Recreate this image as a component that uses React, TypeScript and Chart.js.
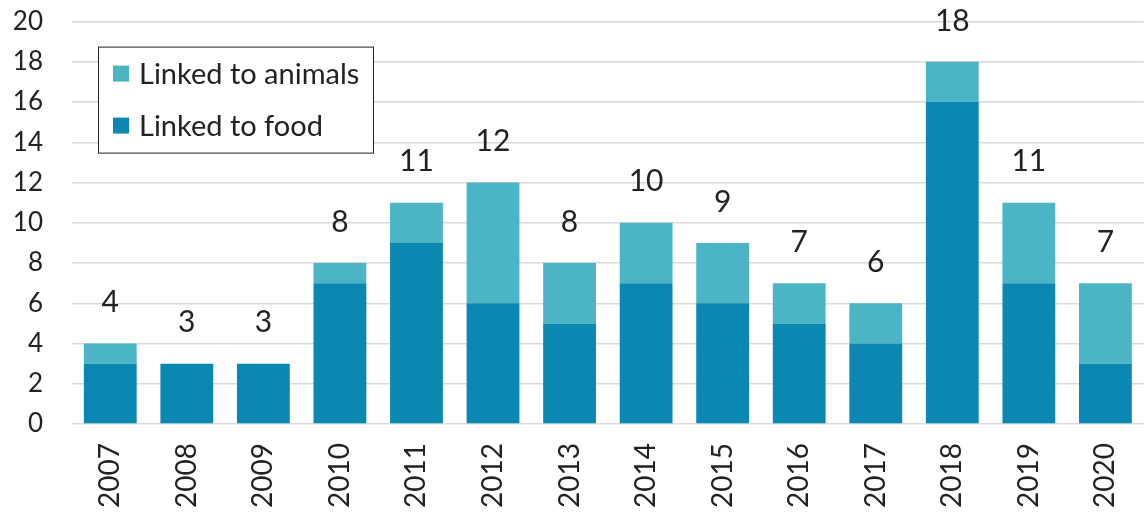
import React, { useEffect, useRef } from "react";
import { Chart, registerables } from "chart.js";

Chart.register(...registerables);

const years = ["2007", "2008", "2009", "2010", "2011", "2012", "2013", "2014", "2015", "2016", "2017", "2018", "2019", "2020"];
const linkedToFood = [3, 3, 3, 7, 9, 6, 5, 7, 6, 5, 4, 16, 7, 3];
const linkedToAnimals = [1, 0, 0, 1, 2, 6, 3, 3, 3, 2, 2, 2, 4, 4];
const foodColor = "#0B88B1";
const animalsColor = "#4BB5C5";
const FONT = "Lato, 'Noto Sans', sans-serif";
const SHIFT = 23;

const totalsPlugin = {
  id: "totals",
  afterDatasetsDraw(chart: any) {
    const ctx = chart.ctx;
    const y = chart.scales.y;
    const meta = chart.getDatasetMeta(0);
    ctx.save();
    ctx.font = `30px ${FONT}`;
    ctx.fillStyle = "#222";
    ctx.textAlign = "center";
    ctx.textBaseline = "middle";
    years.forEach((_, i) => {
      const total = linkedToFood[i] + linkedToAnimals[i];
      const x = meta.data[i].x;
      ctx.fillText(String(total), x, y.getPixelForValue(total) - 41);
    });
    ctx.restore();
  },
};

const legendBoxPlugin = {
  id: "legendBox",
  afterDraw(chart: any) {
    const ctx = chart.ctx;
    const ds = chart.data.datasets;
    const items = [ds[1], ds[0]];
    const top = chart.chartArea.top;
    ctx.save();
    ctx.fillStyle = "#fff";
    ctx.fillRect(98, top + 25, 275, 106);
    ctx.strokeStyle = "#222";
    ctx.lineWidth = 1;
    ctx.strokeRect(98.5, top + 25.5, 275, 106);
    ctx.font = `29px ${FONT}`;
    ctx.textBaseline = "middle";
    ctx.textAlign = "left";
    const rows = [top + 52, top + 104];
    items.forEach((d: any, k: number) => {
      ctx.fillStyle = d.backgroundColor;
      ctx.fillRect(113, rows[k] - 8, 16, 16);
      ctx.fillStyle = "#222";
      ctx.fillText(d.label, 139, rows[k] + 1);
    });
    ctx.restore();
  },
};

export default function App() {
  const ref = useRef<HTMLCanvasElement>(null);
  useEffect(() => {
    if (!ref.current) return;
    const chart = new Chart(ref.current, {
      type: "bar",
      data: {
        labels: years,
        datasets: [
          { label: "Linked to food", data: linkedToFood, backgroundColor: foodColor, barPercentage: 0.69, categoryPercentage: 1 },
          { label: "Linked to animals", data: linkedToAnimals, backgroundColor: animalsColor, barPercentage: 0.69, categoryPercentage: 1 },
        ],
      },
      options: {
        responsive: false,
        animation: false,
        devicePixelRatio: 1,
        layout: { padding: 0 },
        plugins: { legend: { display: false }, tooltip: { enabled: false } },
        scales: {
          x: {
            stacked: true,
            grid: { display: false },
            border: { display: false },
            ticks: { minRotation: 90, maxRotation: 90, padding: 11, color: "#222", font: { family: FONT, size: 28 } },
            afterFit(scale: any) { scale.height = 88; },
          },
          y: {
            stacked: true,
            min: 0,
            max: 20,
            grid: { color: "#d9d9d9", lineWidth: 1.5, drawTicks: false },
            border: { display: false },
            ticks: { stepSize: 2, padding: 29, color: "#222", font: { family: FONT, size: 26 } },
            afterFit(scale: any) { scale.width = 72; },
          },
        },
      },
      plugins: [totalsPlugin, legendBoxPlugin],
    });
    return () => chart.destroy();
  }, []);
  return (
    <div style={{ position: "fixed", left: 0, top: 0, width: 1145, height: 512, overflow: "hidden", background: "#fff" }}>
      <canvas ref={ref} width={1150} height={512 + SHIFT} style={{ display: "block", marginTop: -SHIFT }} />
    </div>
  );
}
